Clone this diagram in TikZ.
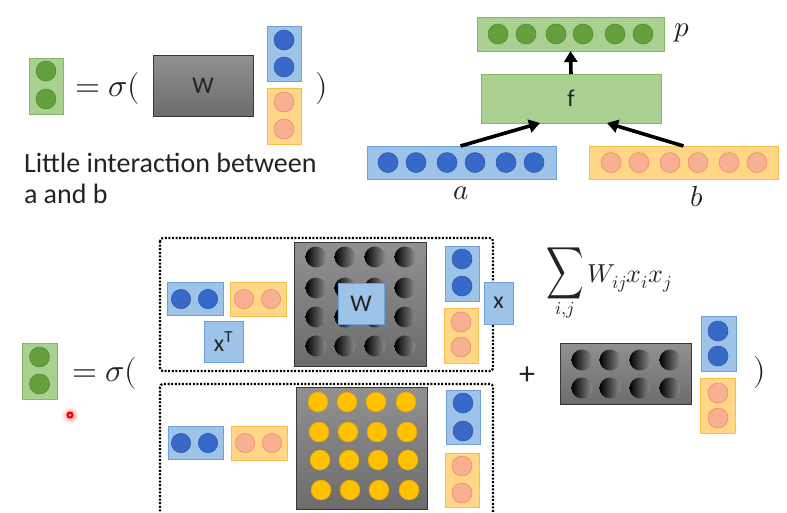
\documentclass[tikz,border=0pt]{standalone}
\usepackage{graphicx}
\usepackage{unicode-math}
\setmainfont{Carlito}
\setmathfont{Latin Modern Math}
\usetikzlibrary{arrows.meta,calc}
\definecolor{gfill}{RGB}{169,208,145}
\definecolor{gline}{RGB}{135,185,100}
\definecolor{gdotc}{RGB}{100,160,60}
\definecolor{gdotl}{RGB}{80,135,45}
\definecolor{bfill}{RGB}{157,195,232}
\definecolor{bline}{RGB}{110,160,220}
\definecolor{bdotc}{RGB}{55,105,200}
\definecolor{bdotl}{RGB}{45,85,165}
\definecolor{ofill}{RGB}{255,215,135}
\definecolor{oline}{RGB}{245,190,75}
\definecolor{odotc}{RGB}{248,176,146}
\definecolor{odotl}{RGB}{235,135,100}
\definecolor{ydotc}{RGB}{255,192,0}
\definecolor{ydotl}{RGB}{225,165,0}
\definecolor{mtop}{RGB}{145,145,145}
\definecolor{mbot}{RGB}{108,108,108}
\definecolor{mline}{RGB}{55,55,55}
\definecolor{txt}{RGB}{35,35,35}
\newcommand\mybox[6]{\node[#2,minimum width={#5-#3},minimum height={#6-#4}] (#1) at ({(#3+#5)/2},{(#4+#6)/2}) {};}
\begin{document}
\begin{tikzpicture}[x=1pt,y=-1pt,
  every node/.style={inner sep=0pt,outer sep=0pt,text=txt},
  gvec/.style={draw=gline,fill=gfill,line width=0.8pt},
  bvec/.style={draw=bline,fill=bfill,line width=0.8pt},
  ovec/.style={draw=oline,fill=ofill,line width=0.8pt},
  mat/.style={draw=mline,line width=0.8pt,top color=mtop,bottom color=mbot},
  gdot/.style={draw=gdotl,fill=gdotc,line width=0.5pt},
  bdot/.style={draw=bdotl,fill=bdotc,line width=0.5pt},
  odot/.style={draw=odotl,fill=odotc,line width=0.5pt},
  ydot/.style={draw=ydotl,fill=ydotc,line width=0.5pt},
  kdot/.style={left color=black,middle color=black,right color=black!45},
  bigarrow/.style={line width=3.6pt,-{Triangle[length=11pt,width=13pt]}},
  dotbox/.style={line width=2.2pt,dash pattern=on 2pt off 1.6pt,rounded corners=3pt},
  eqtxt/.style={font=\fontsize{32}{36}\selectfont},
  lbl/.style={font=\fontsize{24}{28}\selectfont},
  vlbl/.style={font=\fontsize{29}{32}\selectfont}]
\useasboundingbox (0,0) rectangle (787,512);
\clip (0,0) rectangle (787,512);
\fill[white] (0,0) rectangle (787,512);

% ---------- top left ----------
\mybox{g1}{gvec}{29}{58}{63}{114}
\foreach \y in {71,99} \draw[gdot] (46,\y) circle[radius=10];
\node[eqtxt,anchor=west] (eq1) at (75,88) {$=\sigma($};
\mybox{W1}{mat}{153}{55}{253}{116}
\node[lbl] (W1t) at (W1) {W};
\mybox{b1}{bvec}{267}{26}{301}{81}
\foreach \y in {40,67} \draw[bdot] (284,\y) circle[radius=10];
\mybox{o1}{ovec}{267}{88}{301}{144}
\foreach \y in {102,129} \draw[odot] (284,\y) circle[radius=10];
\node[eqtxt] (cp1) at (322,88) {$)$};
\node[font=\fontsize{28}{31}\selectfont,anchor=base west,align=left] (note) at (24,203)
  {Little interaction between\\a and b};

% ---------- top right ----------
\mybox{p}{gvec}{477}{17}{664}{51}
\foreach \x in {498,526,556,583,615,643} \draw[gdot] (\x,34) circle[radius=10];
\node[vlbl] (pl) at (682,33) {$p$};
\mybox{f}{gvec}{481}{74}{661}{123}
\node[lbl] (ft) at (f) {f};
\mybox{a}{bvec}{367}{146}{556}{179}
\foreach \x in {388,416,447,475,506,534} \draw[bdot] (\x,162.5) circle[radius=10];
\mybox{b}{ovec}{589}{146}{778}{179}
\foreach \x in {611,639,670,698,729,757} \draw[odot] (\x,162.5) circle[radius=10];
\node[vlbl] (al) at (461,193) {$a$};
\node[vlbl] (bl) at (697,197) {$b$};
\draw[bigarrow] (f.north) -- (p.south);
\draw[bigarrow] ([xshift=-1pt]a.north) -- ([xshift=-31pt]f.south);
\draw[bigarrow] (b.north) -- ([xshift=36pt]f.south);

% ---------- bottom ----------
\mybox{g2}{gvec}{22}{343}{57}{399}
\foreach \y in {357,384} \draw[gdot] (39.5,\y) circle[radius=10];
\node[eqtxt,anchor=west] (eq2) at (72,373) {$=\sigma($};

\draw[dotbox] (160,238) rectangle (493,371);
\draw[dotbox] (160,384) rectangle (493,540);

% upper dotted box
\mybox{r1}{bvec}{167}{282}{223}{315}
\foreach \x in {181,208} \draw[bdot] (\x,299) circle[radius=9.7];
\mybox{r2}{ovec}{230}{282}{286}{316}
\foreach \x in {244,271} \draw[odot] (\x,299) circle[radius=9.7];
\mybox{xT}{bvec}{204}{321}{243}{362}
\node[lbl] (xTt) at (xT) {x\textsuperscript{T}};
\mybox{M1}{mat}{294}{242}{426}{366}
\foreach \y in {257,288,317,346}
  \foreach \x in {316,345,375,405}
    \shade[kdot] (\x,\y) circle[radius=10.5];
\mybox{Wl}{bvec}{338}{283}{384}{324}
\node[lbl] (Wlt) at (Wl) {W};
\mybox{c1}{bvec}{445}{246}{479}{301}
\foreach \y in {259,286} \draw[bdot] (462,\y) circle[radius=10];
\mybox{c2}{ovec}{444}{308}{478}{363}
\foreach \y in {322,347} \draw[odot] (461,\y) circle[radius=10];
\mybox{xb}{bvec}{484}{282}{513}{324}
\node[lbl] (xbt) at (xb) {x};

% lower dotted box
\mybox{r3}{bvec}{168}{426}{223}{459}
\foreach \x in {181,208} \draw[bdot] (\x,443) circle[radius=9.7];
\mybox{r4}{ovec}{231}{426}{287}{460}
\foreach \x in {245,272} \draw[odot] (\x,443) circle[radius=9.7];
\mybox{M2}{mat}{296}{387}{427}{509}
\foreach \y/\d in {402/0,432/1,460/2,490/3}
  \foreach \x in {318,347,376,406}
    \draw[ydot] (\x+\d,\y) circle[radius=10];
\mybox{c3}{bvec}{446}{390}{480}{444}
\foreach \y in {403,431} \draw[bdot] (463,\y) circle[radius=10];
\mybox{c4}{ovec}{445}{453}{479}{507}
\foreach \y in {466,493} \draw[odot] (462,\y) circle[radius=10];

% right part
\node[anchor=base west,font=\fontsize{26}{30}\selectfont] (sum) at (546,282)
  {$\displaystyle\mathop{\scalebox{1}[1.4]{$\displaystyle\sum$}}\limits_{i,j}W_{ij}x_ix_j$};
\node[font=\fontsize{32}{36}\selectfont] (plus) at (527,376) {+};
\mybox{M3}{mat}{560}{343}{691}{404}
\foreach \y in {360,388}
  \foreach \x in {582,610,640,670}
    \shade[kdot] (\x,\y) circle[radius=10.5];
\mybox{c5}{bvec}{701}{316}{736}{371}
\foreach \y in {331,356} \draw[bdot] (718,\y) circle[radius=10];
\mybox{c6}{ovec}{700}{378}{735}{433}
\foreach \y in {393,418} \draw[odot] (718,\y) circle[radius=10];
\node[eqtxt] (cp2) at (760,372) {$)$};

% pointer dot
\shade[inner color=red!45,outer color=white] (70,415) circle[radius=9];
\fill[red!90!black] (70,415) circle[radius=3.6];
\fill[red!35] (70,415) circle[radius=1.5];
\end{tikzpicture}
\end{document}
